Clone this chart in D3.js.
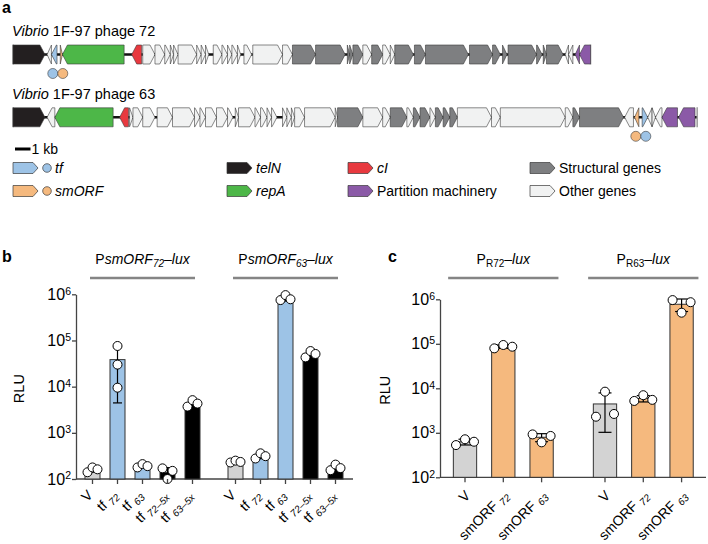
<!DOCTYPE html>
<html>
<head>
<meta charset="utf-8">
<script src="https://cdn.jsdelivr.net/npm/d3@7"></script>
<style>
  body { margin: 0; background: #fff; }
  text { font-family: "Liberation Sans", Arial, Helvetica, sans-serif; }
</style>
</head>
<body>
<div class="container"></div>
<script>
const WIDTH = 708;
const HEIGHT = 544;

const COLORS = {
    telN: '#231f20', tf: '#9dc3e6', smORF: '#f5b97e', repA: '#4db748',
    cI: '#e8393f', struct: '#7e7f81', part: '#8b5aa7', other: '#f1f2f2'
};

// gene maps in kb: [start, end, strand, type]
const phage72Genes = [
    [0, 2.06, 1, 'telN'], [2.2, 2.48, -1, 'other'], [2.48, 2.84, -1, 'tf'], [3.05, 3.19, 1, 'smORF'],
    [3.19, 7.17, -1, 'repA'], [7.66, 8.3, -1, 'cI'],
    [8.37, 9.16, 1, 'other'], [9.16, 9.79, 1, 'other'], [9.79, 10.15, 1, 'other'], [10.15, 10.36, 1, 'other'],
    [10.36, 10.65, 1, 'other'], [10.65, 11.85, 1, 'other'], [11.85, 12.14, 1, 'other'], [12.14, 12.42, 1, 'other'],
    [12.42, 12.63, 1, 'other'], [12.92, 13.48, 1, 'other'], [13.48, 13.84, 1, 'other'], [13.84, 14.12, 1, 'other'],
    [14.12, 14.48, 1, 'other'], [14.48, 14.69, 1, 'other'], [14.9, 15.4, 1, 'other'], [15.47, 17.39, 1, 'other'],
    [17.39, 18.03, 1, 'other'], [18.03, 19.52, 1, 'struct'], [19.52, 21.43, 1, 'struct'], [21.57, 21.72, 1, 'struct'],
    [21.72, 21.93, 1, 'struct'], [21.93, 22.57, 1, 'struct'], [22.57, 23.14, 1, 'other'], [23.14, 23.85, 1, 'struct'],
    [23.85, 24.34, 1, 'other'], [24.34, 24.63, 1, 'other'], [24.63, 25.83, 1, 'struct'], [25.9, 26.61, 1, 'struct'],
    [26.61, 29.38, 1, 'struct'], [29.45, 30.94, 1, 'struct'], [30.94, 31.44, 1, 'struct'], [31.58, 31.87, 1, 'struct'],
    [31.94, 33.78, 1, 'struct'], [33.78, 34.14, 1, 'struct'], [34.21, 34.42, 1, 'struct'], [34.42, 35.49, 1, 'struct'],
    [35.63, 35.84, -1, 'other'], [35.84, 36.12, -1, 'other'], [36.27, 36.55, -1, 'part'], [36.55, 37.26, -1, 'part']
];
const phage63Genes = [
    [0, 2.06, 1, 'telN'], [2.2, 2.7, -1, 'other'], [2.7, 6.46, -1, 'repA'], [6.88, 7.45, -1, 'cI'],
    [7.52, 7.74, 1, 'other'], [7.74, 8.37, 1, 'other'], [8.37, 9.16, 1, 'other'], [9.3, 10.29, 1, 'other'],
    [10.29, 11.71, 1, 'other'], [11.71, 12.06, 1, 'other'], [12.06, 12.42, 1, 'other'], [12.42, 13.13, 1, 'other'],
    [13.13, 13.84, 1, 'other'], [13.84, 14.19, 1, 'other'], [14.34, 14.55, 1, 'other'], [14.55, 15.61, 1, 'other'],
    [15.61, 15.97, 1, 'other'], [15.97, 16.39, 1, 'other'], [16.39, 16.68, 1, 'other'], [16.68, 17.03, 1, 'other'],
    [17.39, 17.67, 1, 'other'], [17.67, 17.96, 1, 'other'], [17.96, 18.17, 1, 'other'], [18.17, 18.81, 1, 'other'],
    [18.81, 20.79, 1, 'other'], [20.79, 20.94, 1, 'other'], [20.94, 22.57, 1, 'struct'], [22.57, 23.85, 1, 'other'],
    [23.85, 24.34, 1, 'other'], [24.34, 25.41, 1, 'struct'], [25.41, 25.83, 1, 'other'], [25.83, 26.26, 1, 'struct'],
    [26.26, 26.9, 1, 'struct'], [26.9, 27.25, 1, 'other'], [27.25, 27.75, 1, 'struct'], [27.75, 28.18, 1, 'struct'],
    [28.18, 28.67, 1, 'struct'], [28.67, 30.87, 1, 'other'], [30.87, 31.44, 1, 'other'], [31.44, 35.63, 1, 'other'],
    [35.63, 36.12, 1, 'other'], [36.12, 36.55, 1, 'struct'], [36.55, 39.39, 1, 'struct'], [39.46, 40.03, -1, 'other'],
    [40.1, 40.38, -1, 'smORF'], [40.59, 40.95, 1, 'tf'], [40.95, 41.23, -1, 'other'], [41.23, 41.45, 1, 'other'],
    [41.45, 41.87, -1, 'other'], [41.87, 42.87, -1, 'part'], [42.94, 44.0, -1, 'part']
];
const phageLengths = [37.26, 44.14];
const phageNames = ['1F-97 phage 72', '1F-97 phage 63'];

const legendItems = [
    ['tf', 'tf', true, true], ['smORF', 'smORF', true, true],
    ['telN', 'telN', true, false], ['repA', 'repA', true, false],
    ['cI', 'cI', true, false], ['part', 'Partition machinery', false, false],
    ['struct', 'Structural genes', false, false], ['other', 'Other genes', false, false]
];

// panel b: replicate RLU values
const bGroupsMain = ['smORF', 'smORF'];
const bGroupsSub = ['72', '63'];
const bStrains = ['V', 'tf', 'tf', 'tf', 'tf'];
const bStrainSubs = ['', '72', '63', '72–5x', '63–5x'];
const bFill = ['#d3d3d3', COLORS.tf, COLORS.tf, '#000', '#000'];
const bReps = [
    [[140, 178, 162], [76000, 30000, 9500], [178, 210, 190], [170, 100, 150], [3700, 5100, 4300]],
    [[228, 250, 234], [278, 360, 312], [750000, 960000, 780000], [43000, 59000, 51000], [155, 205, 172]]
];

// panel c: replicate RLU values
const cGroupsSub = ['R72', 'R63'];
const cStrains = ['V', 'smORF', 'smORF'];
const cStrainSubs = ['', '72', '63'];
const cFill = ['#d3d3d3', COLORS.smORF, COLORS.smORF];
const cReps = [
    [[530, 715, 630], [79000, 94000, 86000], [920, 610, 850]],
    [[2300, 8400, 2650], [5200, 7000, 5500], [960000, 500000, 860000]]
];

const yTicks = [1e2, 1e3, 1e4, 1e5, 1e6];

const svg = d3.select('.container').append('svg')
    .attr('width', WIDTH)
    .attr('height', HEIGHT);

// ---------- panel a ----------
const kb = d3.scaleLinear().domain([0, 1]).range([13, 28.5]);
const GENE_H = 19;

const genePath = function (x0, x1, strand, yc, h) {
    const hl = Math.min(5, x1 - x0);
    const t = yc - h / 2, b = yc + h / 2;
    if (strand > 0) {
        return `M${x0},${t}L${x1 - hl},${t}L${x1},${yc}L${x1 - hl},${b}L${x0},${b}Z`;
    }
    return `M${x1},${t}L${x0 + hl},${t}L${x0},${yc}L${x0 + hl},${b}L${x1},${b}Z`;
};

svg.append('text').attr('x', 2).attr('y', 13)
    .attr('font-size', 16).attr('font-weight', 'bold').text('a');

[phage72Genes, phage63Genes].forEach(function (genes, i) {
    const yc = [54.5, 117.3][i];
    const title = svg.append('text').attr('x', 12).attr('y', [36, 99][i]).attr('font-size', 14.5);
    title.append('tspan').attr('font-style', 'italic').text('Vibrio');
    title.append('tspan').text(' ' + phageNames[i]);

    const g = svg.append('g');
    g.append('line')
        .attr('x1', kb(0)).attr('x2', kb(phageLengths[i]))
        .attr('y1', yc).attr('y2', yc)
        .attr('stroke', '#111').attr('stroke-width', 2.5);
    [0, phageLengths[i]].forEach(function (p) {
        g.append('line').attr('x1', kb(p)).attr('x2', kb(p))
            .attr('y1', yc - 10).attr('y2', yc + 10)
            .attr('stroke', '#9a9a9a').attr('stroke-width', 1.5);
    });
    g.selectAll('path').data(genes).enter().append('path')
        .attr('d', d => genePath(kb(d[0]), kb(d[1]), d[2], yc, GENE_H))
        .attr('fill', d => COLORS[d[3]])
        .attr('stroke', '#3a3a3a').attr('stroke-width', 0.6)
        .attr('stroke-linejoin', 'round');

    // marker circles for tf / smORF
    const tfG = genes.find(d => d[3] === 'tf');
    const smG = genes.find(d => d[3] === 'smORF');
    const mid = (kb((tfG[0] + tfG[1]) / 2) + kb((smG[0] + smG[1]) / 2)) / 2;
    const left = tfG[0] < smG[0] ? 'tf' : 'smORF';
    const right = left === 'tf' ? 'smORF' : 'tf';
    const cy = yc + 19;
    g.append('circle').attr('cx', mid - 5).attr('cy', cy).attr('r', 5)
        .attr('fill', COLORS[left]).attr('stroke', '#3a3a3a').attr('stroke-width', 0.6);
    g.append('circle').attr('cx', mid + 5).attr('cy', cy).attr('r', 5)
        .attr('fill', COLORS[right]).attr('stroke', '#3a3a3a').attr('stroke-width', 0.6);
});

// scale bar
svg.append('line').attr('x1', kb(0) + 2).attr('x2', kb(1) + 2)
    .attr('y1', 149).attr('y2', 149).attr('stroke', '#000').attr('stroke-width', 3);
svg.append('text').attr('x', kb(1) + 3).attr('y', 154).attr('font-size', 14).text('1 kb');

// legend
const legX = [13, 13, 227, 227, 348, 348, 530, 530];
const legY = [168, 191];
legendItems.forEach(function (item, i) {
    const x = legX[i], y = legY[i % 2];
    svg.append('path')
        .attr('d', genePath(x, x + 25, 1, y, 11))
        .attr('fill', COLORS[item[0]]).attr('stroke', '#3a3a3a').attr('stroke-width', 0.7)
        .attr('stroke-linejoin', 'round');
    let tx = x + 29;
    if (item[3]) {
        svg.append('circle').attr('cx', x + 34).attr('cy', y).attr('r', 4.3)
            .attr('fill', COLORS[item[0]]).attr('stroke', '#3a3a3a').attr('stroke-width', 0.7);
        tx = x + 42;
    }
    svg.append('text').attr('x', tx).attr('y', y + 5).attr('font-size', 14)
        .attr('font-style', item[2] ? 'italic' : 'normal').text(item[1]);
});

// ---------- bar panels ----------
const yAxisStyle = function (g) {
    g.select('.domain').attr('stroke', '#444').attr('stroke-width', 1.3);
    g.selectAll('.tick line').attr('stroke', '#444').attr('stroke-width', 1.3);
    g.selectAll('.tick text').text(null)
        .attr('font-size', 16).attr('fill', '#000')
        .attr('font-family', '"Liberation Sans", Arial, sans-serif')
        .call(function (t) {
            t.append('tspan').text('10');
            t.append('tspan').attr('dy', '-0.5em').attr('font-size', 10.5)
                .text(d => Math.round(Math.log10(d)));
        });
};

const jitter = function (vals, y, r) {
    const ys = vals.map(y);
    let ok = true;
    for (let a = 0; a < ys.length; a++) {
        for (let b = a + 1; b < ys.length; b++) {
            if (Math.abs(ys[a] - ys[b]) < 2 * r + 1) ok = false;
        }
    }
    return vals.map((v, k) => ok ? 0 : k - (vals.length - 1) / 2);
};

const drawBars = function (opt) {
    const g = svg.append('g');
    const y = d3.scaleLog().domain([1e2, 1e6]).range(opt.yRange);
    const x = d3.scaleLinear().domain([0, 1]).range(opt.xSlot);
    const nPer = opt.strains.length;
    const slot = (gi, i) => gi * (nPer + opt.gap) + i;

    g.append('g')
        .attr('transform', `translate(${opt.axisX},0)`)
        .call(d3.axisLeft(y).tickValues(yTicks).tickSize(4).tickPadding(1).tickSizeOuter(0))
        .call(yAxisStyle);

    g.append('line')
        .attr('x1', opt.axisX).attr('x2', opt.axisEnd)
        .attr('y1', y(1e2)).attr('y2', y(1e2))
        .attr('stroke', '#444').attr('stroke-width', 1.3);

    g.append('text')
        .attr('transform', `translate(${opt.labelX},${(y(1e2) + y(1e6)) / 2 + 2}) rotate(-90)`)
        .attr('text-anchor', 'middle').attr('font-size', 14.5).text('RLU');

    opt.reps.forEach(function (group, gi) {
        // header
        const x0 = x(slot(gi, 0) - opt.headPad), x1 = x(slot(gi, nPer - 1) + opt.headPad);
        g.append('line').attr('x1', x0).attr('x2', x1)
            .attr('y1', 278).attr('y2', 278)
            .attr('stroke', '#858585').attr('stroke-width', 2.5);
        const head = g.append('text').attr('x', (x0 + x1) / 2).attr('y', 264)
            .attr('text-anchor', 'middle').attr('font-size', 14);
        opt.header(head, gi);

        group.forEach(function (vals, i) {
            const cx = x(slot(gi, i));
            const mean = d3.mean(vals), sd = d3.deviation(vals);
            g.append('rect')
                .attr('x', cx - opt.barW / 2).attr('width', opt.barW)
                .attr('y', y(mean)).attr('height', y(1e2) - y(mean))
                .attr('fill', opt.fill[i]).attr('stroke', '#333').attr('stroke-width', 1);
            const lo = Math.max(mean - sd, 101), hi = mean + sd;
            g.append('line').attr('x1', cx).attr('x2', cx)
                .attr('y1', y(lo)).attr('y2', y(hi))
                .attr('stroke', '#000').attr('stroke-width', 1.2);
            [lo, hi].forEach(function (v) {
                g.append('line').attr('x1', cx - opt.cap).attr('x2', cx + opt.cap)
                    .attr('y1', y(v)).attr('y2', y(v))
                    .attr('stroke', '#000').attr('stroke-width', 1.2);
            });
            const offs = jitter(vals, y, 4.5);
            g.selectAll(null).data(vals).enter().append('circle')
                .attr('cx', (d, k) => cx + offs[k] * opt.jit)
                .attr('cy', d => y(d))
                .attr('r', 4.5)
                .attr('fill', '#fff').attr('stroke', '#000').attr('stroke-width', 1);

            // x tick + label
            g.append('line').attr('x1', cx).attr('x2', cx)
                .attr('y1', y(1e2)).attr('y2', y(1e2) + 5)
                .attr('stroke', '#444').attr('stroke-width', 1.3);
            const lab = g.append('text')
                .attr('transform', `translate(${cx + opt.labDx},${y(1e2) + opt.labDy}) rotate(-45)`)
                .attr('text-anchor', 'end').attr('font-size', 14);
            lab.append('tspan').text(opt.strains[i] + (opt.subs[i] ? ' ' : ''));
            if (opt.subs[i]) {
                lab.append('tspan').attr('dy', 3).attr('font-size', 10)
                    .attr('font-style', 'italic').text(opt.subs[i]);
            }
        });
    });
};

// panel b
svg.append('text').attr('x', 2).attr('y', 262)
    .attr('font-size', 16).attr('font-weight', 'bold').text('b');
drawBars({
    reps: bReps, strains: bStrains, subs: bStrainSubs, fill: bFill,
    yRange: [479, 294.3], xSlot: [92.5, 117.5], gap: 0.72, barW: 15,
    axisX: 76, axisEnd: 353, labelX: 24, cap: 4.5, jit: 5, headPad: 0.1,
    labDx: 1, labDy: 17,
    header: function (t, gi) {
        t.append('tspan').text('P');
        t.append('tspan').attr('font-style', 'italic').text(bGroupsMain[gi]);
        t.append('tspan').attr('font-style', 'italic').attr('font-size', 10).attr('dy', 3).text(bGroupsSub[gi]);
        t.append('tspan').attr('font-style', 'italic').attr('dy', -3).text('–lux');
    }
});

// panel c
svg.append('text').attr('x', 388).attr('y', 262)
    .attr('font-size', 16).attr('font-weight', 'bold').text('c');
drawBars({
    reps: cReps, strains: cStrains, subs: cStrainSubs, fill: cFill,
    yRange: [477.3, 299.3], xSlot: [465, 503.3], gap: 0.655, barW: 23.3,
    axisX: 440, axisEnd: 706, labelX: 390, cap: 6.5, jit: 9, headPad: 0.44,
    labDx: 6, labDy: 19,
    header: function (t, gi) {
        t.append('tspan').text('P');
        t.append('tspan').attr('font-size', 10).attr('dy', 3).text(cGroupsSub[gi]);
        t.append('tspan').attr('font-style', 'italic').attr('dy', -3).text('–lux');
    }
});
</script>
</body>
</html>
